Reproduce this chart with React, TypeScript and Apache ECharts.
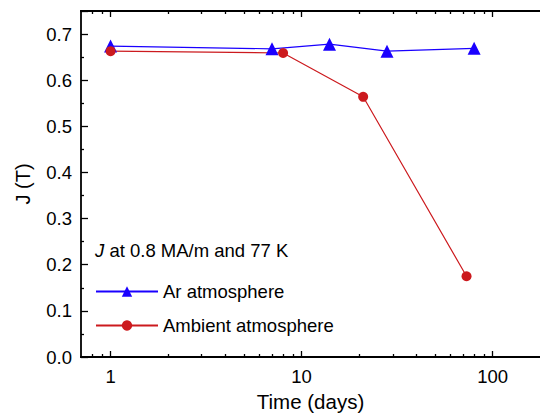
import React, { useEffect, useRef } from "react";
import * as echarts from "echarts";

const arDays = [1, 7, 14, 28, 80];
const arJ = [0.674, 0.668, 0.678, 0.663, 0.669];
const ambDays = [1, 8, 21, 73];
const ambJ = [0.663, 0.659, 0.564, 0.175];
const xMajorTicks = [1, 10, 100];
const xMinorTicks = [0.8, 0.9, 2, 3, 4, 5, 6, 7, 8, 9, 20, 30, 40, 50, 60, 70, 80, 90];
const xMin = 0.7;
const xMax = 177;
const yMax = 0.75;

const FONT = "'Liberation Sans', Arial, sans-serif";
const BLUE = "#1a00ff";
const RED = "#cc1a1e";

export default function App() {
  const ref = useRef<HTMLDivElement>(null);
  useEffect(() => {
    document.body.style.margin = "0";
    const chart = echarts.init(ref.current!, null, { renderer: "svg" });
    const lg = (v: number) => Math.log10(v);
    const baseX = (position: "top" | "bottom", ticks: number[], len: number, labels: boolean) => ({
      type: "value",
      position,
      min: lg(xMin),
      max: lg(xMax),
      axisLine: { show: true, onZero: false, lineStyle: { color: "#000", width: 1.8 } },
      axisTick: { show: true, inside: true, length: len, customValues: ticks.map(lg), lineStyle: { color: "#000", width: 1.3 } },
      axisLabel: labels
        ? {
            show: true,
            customValues: ticks.map(lg),
            formatter: (v: number) => String(Math.round(Math.pow(10, v))),
            color: "#000",
            fontSize: 18.5,
            fontFamily: FONT,
            margin: 10,
          }
        : { show: false },
      splitLine: { show: false },
    });
    const xAxes: any[] = [
      {
        ...baseX("bottom", xMajorTicks, 6, true),
        name: "Time (days)",
        nameLocation: "middle",
        nameGap: 33,
        nameTextStyle: { color: "#000", fontSize: 20.5, fontFamily: FONT },
      },
      baseX("bottom", xMinorTicks, 3, false),
      baseX("top", xMajorTicks, 6, false),
      baseX("top", xMinorTicks, 3, false),
    ];
    chart.setOption({
      animation: false,
      backgroundColor: "#fff",
      grid: { left: 81, top: 11, right: 0, bottom: 56, containLabel: false, outerBoundsMode: "none" },
      title: {
        left: 95,
        top: 241,
        padding: 0,
        text: "{i|J} at 0.8 MA/m and 77 K",
        textStyle: {
          color: "#000",
          fontSize: 18.5,
          fontWeight: "normal",
          fontFamily: FONT,
          rich: { i: { fontStyle: "italic", fontSize: 18.5, color: "#000", fontFamily: FONT } },
        },
      },
      legend: {
        orient: "vertical",
        left: 95,
        top: 282,
        padding: 0,
        itemWidth: 62,
        itemHeight: 13,
        itemGap: 15,
        textStyle: { color: "#000", fontSize: 18.5, fontFamily: FONT },
        data: ["Ar atmosphere", "Ambient atmosphere"],
      },
      xAxis: xAxes,
      yAxis: {
        type: "value",
        min: 0,
        max: yMax,
        interval: 0.1,
        name: "J (T)",
        nameLocation: "middle",
        nameGap: 48,
        nameTextStyle: { color: "#000", fontSize: 20, fontFamily: FONT },
        axisLine: { show: true, onZero: false, lineStyle: { color: "#000", width: 1.8 } },
        axisTick: { show: true, inside: true, length: 7, lineStyle: { color: "#000", width: 1.3 } },
        minorTick: { show: true, splitNumber: 2, length: 3, lineStyle: { color: "#000", width: 1.3 } },
        axisLabel: {
          color: "#000",
          fontSize: 18.5,
          fontFamily: FONT,
          margin: 9,
          formatter: (v: number) => (Math.abs(v * 10 - Math.round(v * 10)) < 1e-6 ? v.toFixed(1) : ""),
        },
        splitLine: { show: false },
      },
      series: [
        {
          name: "Ar atmosphere",
          type: "line",
          xAxisIndex: 0,
          data: arDays.map((d, i) => [lg(d), arJ[i]]),
          symbol: "triangle",
          symbolSize: 13,
          itemStyle: { color: BLUE },
          lineStyle: { color: BLUE, width: 1.2 },
        },
        {
          name: "Ambient atmosphere",
          type: "line",
          xAxisIndex: 0,
          data: ambDays.map((d, i) => [lg(d), ambJ[i]]),
          symbol: "circle",
          symbolSize: 10,
          itemStyle: { color: RED },
          lineStyle: { color: RED, width: 1.2 },
        },
      ],
    });
    return () => chart.dispose();
  }, []);
  return <div ref={ref} style={{ width: 540, height: 413, position: "absolute", left: 0, top: 0 }} />;
}
